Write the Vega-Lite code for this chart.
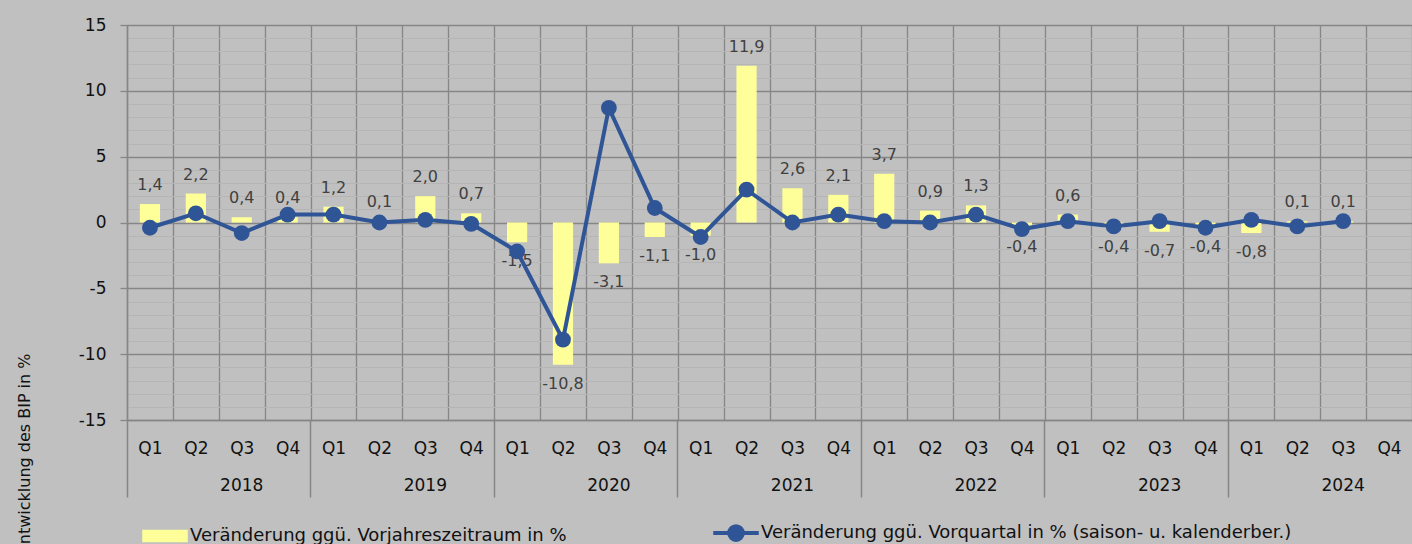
{
  "$schema": "https://vega.github.io/schema/vega-lite/v6.json",
  "width": 1285,
  "height": 395,
  "autosize": {"type": "none"},
  "padding": {"left": 127, "top": 25, "right": 0, "bottom": 124},
  "background": "#C0C0C0",
  "config": {
    "view": {"stroke": null},
    "font": "DejaVu Sans",
    "locale": {"number": {"decimal": ",", "thousands": ".", "grouping": [3], "currency": ["", " €"], "minus": "-"}}
  },
  "data": {"values": [
    {"key": "2018-Q1", "yoy": 1.4, "qoq": -0.4},
    {"key": "2018-Q2", "yoy": 2.2, "qoq": 0.7},
    {"key": "2018-Q3", "yoy": 0.4, "qoq": -0.8},
    {"key": "2018-Q4", "yoy": 0.4, "qoq": 0.6},
    {"key": "2019-Q1", "yoy": 1.2, "qoq": 0.6},
    {"key": "2019-Q2", "yoy": 0.1, "qoq": 0.0},
    {"key": "2019-Q3", "yoy": 2.0, "qoq": 0.2},
    {"key": "2019-Q4", "yoy": 0.7, "qoq": -0.1},
    {"key": "2020-Q1", "yoy": -1.5, "qoq": -2.2},
    {"key": "2020-Q2", "yoy": -10.8, "qoq": -8.9},
    {"key": "2020-Q3", "yoy": -3.1, "qoq": 8.7},
    {"key": "2020-Q4", "yoy": -1.1, "qoq": 1.1},
    {"key": "2021-Q1", "yoy": -1.0, "qoq": -1.1},
    {"key": "2021-Q2", "yoy": 11.9, "qoq": 2.5},
    {"key": "2021-Q3", "yoy": 2.6, "qoq": 0.0},
    {"key": "2021-Q4", "yoy": 2.1, "qoq": 0.6},
    {"key": "2022-Q1", "yoy": 3.7, "qoq": 0.1},
    {"key": "2022-Q2", "yoy": 0.9, "qoq": 0.0},
    {"key": "2022-Q3", "yoy": 1.3, "qoq": 0.6},
    {"key": "2022-Q4", "yoy": -0.4, "qoq": -0.5},
    {"key": "2023-Q1", "yoy": 0.6, "qoq": 0.1},
    {"key": "2023-Q2", "yoy": -0.4, "qoq": -0.3},
    {"key": "2023-Q3", "yoy": -0.7, "qoq": 0.1},
    {"key": "2023-Q4", "yoy": -0.4, "qoq": -0.4},
    {"key": "2024-Q1", "yoy": -0.8, "qoq": 0.2},
    {"key": "2024-Q2", "yoy": 0.1, "qoq": -0.3},
    {"key": "2024-Q3", "yoy": 0.1, "qoq": 0.1},
    {"key": "2024-Q4", "yoy": null, "qoq": null}
  ]},
  "resolve": {"axis": {"x": "independent", "y": "independent"}},
  "layer": [
    {
      "mark": {"type": "bar", "width": {"band": 0.44}},
      "encoding": {
        "x": {
          "field": "key", "type": "ordinal",
          "scale": {"paddingInner": 0, "paddingOuter": 0},
          "axis": {
            "orient": "bottom", "title": null, "labelAngle": 0,
            "labelExpr": "datum.value ? substring(datum.value, 5) : ''",
            "labelFont": "DejaVu Sans", "labelFontSize": 17, "labelColor": "#111111",
            "labelBaseline": "middle", "labelPadding": 28,
            "ticks": false, "grid": true, "tickBand": "extent",
            "gridColor": "#868686", "gridWidth": 1.3,
            "domain": true, "domainColor": "#868686", "domainWidth": 1.5
          }
        },
        "y": {
          "field": "yoy", "type": "quantitative",
          "scale": {"domain": [-15, 15], "nice": false, "zero": false},
          "axis": {
            "orient": "left", "title": null,
            "values": [-14,-13,-12,-11,-9,-8,-7,-6,-4,-3,-2,-1,1,2,3,4,6,7,8,9,11,12,13,14],
            "labels": false, "ticks": false, "domain": false,
            "grid": true, "gridColor": "#B5B5B5", "gridWidth": 1
          }
        },
        "color": {
          "datum": "Veränderung ggü. Vorjahreszeitraum in %",
          "scale": {
            "domain": ["Veränderung ggü. Vorjahreszeitraum in %", "Veränderung ggü. Vorquartal in % (saison- u. kalenderber.)"],
            "range": ["#FFFF99", "#2F5597"]
          },
          "legend": {
            "title": null, "orient": "none", "direction": "horizontal",
            "legendX": 29, "legendY": 499,
            "labelFont": "DejaVu Sans", "labelFontSize": 18, "labelColor": "#111111",
            "labelLimit": 1000, "labelOffset": 16, "columnPadding": 138,
            "symbolSize": 2070,
            "symbolType": "M-1,-0.27H1V0.27H-1Z",
            "encode": {
              "symbols": {
                "update": {
                  "shape": {"signal": "datum.value === 'Veränderung ggü. Vorjahreszeitraum in %' ? 'M-1,-0.27H1V0.27H-1Z' : 'M-1,0H1M0.3,0A0.3,0.3,0,1,1,-0.3,0A0.3,0.3,0,1,1,0.3,0Z'"},
                  "fill": {"scale": "color", "field": "value"},
                  "stroke": {"scale": "color", "field": "value"},
                  "strokeWidth": {"signal": "datum.value === 'Veränderung ggü. Vorjahreszeitraum in %' ? 0 : 4"},
                  "opacity": {"value": 1},
                  "fillOpacity": {"value": 1},
                  "strokeOpacity": {"value": 1}
                }
              }
            }
          }
        }
      }
    },
    {
      "transform": [{"filter": "datum.yoy != null && datum.yoy >= 0"}],
      "mark": {"type": "text", "baseline": "middle", "dy": -19, "font": "DejaVu Sans", "fontSize": 16, "color": "#404040"},
      "encoding": {
        "x": {"field": "key", "type": "ordinal", "axis": null},
        "y": {
          "field": "yoy", "type": "quantitative",
          "scale": {"domain": [-15, 15], "nice": false, "zero": false},
          "axis": {
            "orient": "left",
            "title": "Entwicklung des BIP in %",
            "titleFont": "DejaVu Sans", "titleFontSize": 16, "titleFontWeight": "normal", "titleColor": "#111111",
            "titleAngle": -90, "titleAlign": "right", "titleBaseline": "alphabetic",
            "titleX": -98, "titleY": 328,
            "values": [-15, -10, -5, 0, 5, 10, 15],
            "labelOverlap": false, "labelFlush": false,
            "labelFont": "DejaVu Sans", "labelFontSize": 17, "labelColor": "#111111",
            "labelPadding": 14,
            "ticks": true, "tickSize": 7, "tickColor": "#868686", "tickWidth": 1.3,
            "grid": true, "gridColor": "#868686", "gridWidth": 1.5,
            "domain": true, "domainColor": "#868686", "domainWidth": 1.5
          }
        },
        "text": {"field": "yoy", "type": "quantitative", "format": ".1f"}
      }
    },
    {
      "transform": [{"filter": "datum.yoy != null && datum.yoy < 0"}],
      "mark": {"type": "text", "baseline": "middle", "dy": 19, "font": "DejaVu Sans", "fontSize": 16, "color": "#404040"},
      "encoding": {
        "x": {"field": "key", "type": "ordinal", "axis": null},
        "y": {"field": "yoy", "type": "quantitative", "scale": {"domain": [-15, 15], "nice": false, "zero": false}, "axis": null},
        "text": {"field": "yoy", "type": "quantitative", "format": ".1f"}
      }
    },
    {
      "mark": {"type": "line", "strokeWidth": 4},
      "encoding": {
        "x": {
          "field": "key", "type": "ordinal",
          "axis": {
            "orient": "bottom", "title": null, "labels": false, "grid": false, "domain": false,
            "values": ["2018-Q1", "2019-Q1", "2020-Q1", "2021-Q1", "2022-Q1", "2023-Q1", "2024-Q1"],
            "bandPosition": 0, "ticks": true, "tickSize": 77, "tickColor": "#868686", "tickWidth": 1.5
          }
        },
        "y": {"field": "qoq", "type": "quantitative", "scale": {"domain": [-15, 15], "nice": false, "zero": false}, "axis": null},
        "color": {"datum": "Veränderung ggü. Vorquartal in % (saison- u. kalenderber.)", "legend": null}
      }
    },
    {
      "mark": {"type": "circle", "size": 250, "opacity": 1},
      "encoding": {
        "x": {
          "field": "key", "type": "ordinal",
          "axis": {
            "orient": "bottom", "title": null, "grid": false, "domain": false, "ticks": false,
            "values": ["2018-Q3", "2019-Q3", "2020-Q3", "2021-Q3", "2022-Q3", "2023-Q3", "2024-Q3"],
            "labelExpr": "substring(datum.value, 0, 4)", "labelAngle": 0,
            "bandPosition": 0, "labelAlign": "center", "labelBaseline": "middle", "labelPadding": 65,
            "labelFont": "DejaVu Sans", "labelFontSize": 17, "labelColor": "#111111"
          }
        },
        "y": {"field": "qoq", "type": "quantitative", "scale": {"domain": [-15, 15], "nice": false, "zero": false}, "axis": null},
        "color": {"datum": "Veränderung ggü. Vorquartal in % (saison- u. kalenderber.)", "legend": null}
      }
    }
  ]
}
